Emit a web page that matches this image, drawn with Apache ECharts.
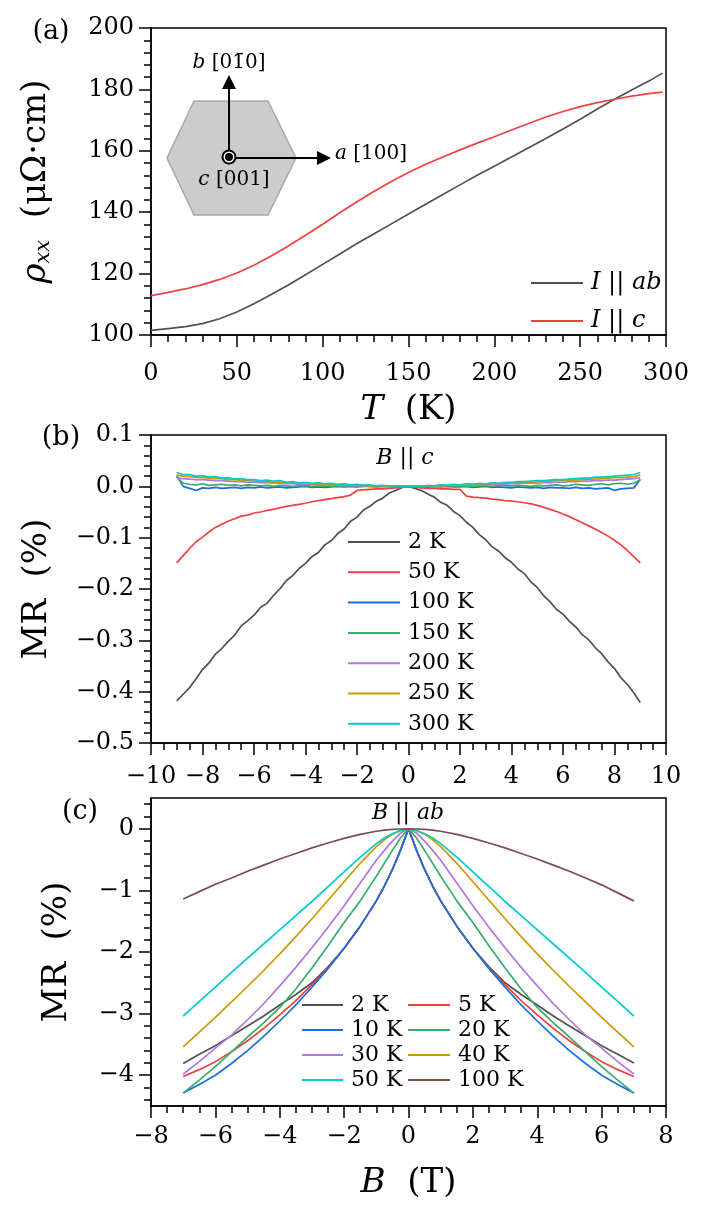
<!DOCTYPE html>
<html><head><meta charset="utf-8">
<script src="https://cdn.jsdelivr.net/npm/echarts@6/dist/echarts.min.js"></script>
<style>html,body{margin:0;padding:0;background:#fff}#c{width:706px;height:1208px}</style>
</head><body><div id="c"></div>
<script>
// ---------------- DATA ----------------
// Panel (a): resistivity vs temperature
const TEMP_A = [0,10,20,30,40,50,60,70,80,90,100,110,120,130,140,150,160,170,180,190,200,210,220,230,240,250,260,270,280,290,298];
const RHO_AB = [101.5,102.1,102.7,103.7,105.3,107.5,110.2,113.2,116.3,119.6,123.0,126.4,129.8,133.0,136.2,139.4,142.6,145.8,148.9,152.0,155.0,158.0,161.0,164.0,167.1,170.3,173.6,176.8,179.8,182.7,185.3];
const RHO_C  = [112.8,113.9,115.0,116.4,118.1,120.2,122.7,125.7,129.0,132.5,136.1,139.8,143.4,146.8,150.0,152.9,155.6,158.0,160.3,162.5,164.6,166.8,168.9,171.0,172.8,174.4,175.7,176.8,177.8,178.6,179.1];
const T_TICKS = [0,50,100,150,200,250,300];
const RHO_TICKS = [100,120,140,160,180,200];

// Panel (b): MR, B || c
const FIELD_B = [-9,-8.75,-8.5,-8.25,-8,-7.75,-7.5,-7.25,-7,-6.75,-6.5,-6.25,-6,-5.75,-5.5,-5.25,-5,-4.75,-4.5,-4.25,-4,-3.75,-3.5,-3.25,-3,-2.75,-2.5,-2.25,-2,-1.75,-1.5,-1.25,-1,-0.75,-0.5,-0.25,0,0.25,0.5,0.75,1,1.25,1.5,1.75,2,2.25,2.5,2.75,3,3.25,3.5,3.75,4,4.25,4.5,4.75,5,5.25,5.5,5.75,6,6.25,6.5,6.75,7,7.25,7.5,7.75,8,8.25,8.5,8.75,9];
const MR_C_2K = [-0.418,-0.405,-0.392,-0.375,-0.357,-0.344,-0.327,-0.316,-0.302,-0.290,-0.272,-0.262,-0.251,-0.236,-0.228,-0.213,-0.200,-0.184,-0.174,-0.160,-0.150,-0.137,-0.129,-0.114,-0.106,-0.092,-0.083,-0.068,-0.060,-0.046,-0.039,-0.029,-0.023,-0.013,-0.008,-0.002,0.000,
 -0.004,-0.008,-0.015,-0.021,-0.031,-0.037,-0.049,-0.057,-0.070,-0.080,-0.094,-0.104,-0.118,-0.126,-0.139,-0.148,-0.161,-0.170,-0.186,-0.197,-0.213,-0.225,-0.240,-0.249,-0.263,-0.274,-0.289,-0.299,-0.314,-0.326,-0.342,-0.355,-0.373,-0.386,-0.402,-0.421];
const MR_C_50K = [-0.149,-0.135,-0.121,-0.108,-0.099,-0.089,-0.080,-0.074,-0.068,-0.063,-0.058,-0.056,-0.052,-0.050,-0.047,-0.045,-0.042,-0.039,-0.037,-0.035,-0.033,-0.030,-0.028,-0.026,-0.024,-0.022,-0.020,-0.017,-0.008,-0.007,-0.006,-0.005,-0.005,-0.004,-0.003,-0.002,0.000,
 -0.002,-0.003,-0.004,-0.004,-0.005,-0.005,-0.006,-0.006,-0.019,-0.021,-0.022,-0.023,-0.025,-0.026,-0.028,-0.029,-0.030,-0.032,-0.034,-0.037,-0.041,-0.045,-0.049,-0.054,-0.059,-0.065,-0.071,-0.077,-0.083,-0.090,-0.097,-0.105,-0.114,-0.125,-0.137,-0.149];
const MR_C_100K = [0.021,0.000,-0.004,-0.008,-0.003,-0.004,-0.002,-0.004,-0.003,-0.002,-0.004,-0.002,-0.003,-0.001,-0.003,-0.002,-0.001,-0.003,-0.002,-0.001,0.000,-0.002,-0.001,-0.002,-0.001,0.000,-0.001,0.000,-0.001,0.000,0.000,-0.001,0.000,0.000,0.000,0.000,0.000,
 0.000,0.000,-0.001,0.000,-0.001,0.000,-0.001,-0.001,0.000,-0.002,-0.001,0.000,-0.002,-0.001,-0.002,-0.003,-0.001,-0.002,-0.003,-0.002,-0.004,-0.002,-0.003,-0.003,-0.004,-0.002,-0.004,-0.003,-0.005,-0.004,-0.003,-0.008,-0.005,-0.004,-0.003,0.014];
const MR_C_150K = [0.018,0.006,0.004,0.003,0.005,0.002,0.003,0.004,0.002,0.003,0.001,0.003,0.002,0.001,0.002,0.000,0.002,0.001,0.000,0.001,0.002,0.000,0.001,0.000,0.001,0.000,0.001,0.000,0.000,0.001,0.000,0.000,0.000,0.000,0.000,0.000,0.000,
 0.000,0.000,0.000,0.000,0.001,0.000,0.000,0.001,0.000,0.000,0.001,0.001,0.000,0.002,0.001,0.001,0.002,0.001,0.000,0.002,0.001,0.002,0.003,0.001,0.002,0.004,0.003,0.002,0.004,0.005,0.003,0.005,0.006,0.004,0.006,0.013];
const MR_C_200K = [0.016,0.015,0.014,0.013,0.013,0.012,0.011,0.011,0.010,0.009,0.009,0.008,0.008,0.007,0.007,0.006,0.006,0.005,0.005,0.004,0.004,0.004,0.003,0.003,0.003,0.002,0.002,0.002,0.001,0.001,0.001,0.001,0.000,0.000,0.000,0.000,0.000,
 0.000,0.000,0.001,0.001,0.001,0.001,0.002,0.002,0.002,0.003,0.003,0.003,0.004,0.004,0.004,0.005,0.005,0.006,0.006,0.006,0.007,0.007,0.008,0.008,0.009,0.009,0.010,0.010,0.011,0.011,0.012,0.012,0.013,0.014,0.015,0.017];
const MR_C_250K = [0.022,0.020,0.019,0.018,0.017,0.016,0.015,0.015,0.013,0.013,0.012,0.011,0.010,0.010,0.009,0.008,0.008,0.007,0.007,0.006,0.006,0.005,0.005,0.004,0.004,0.003,0.003,0.002,0.003,0.002,0.001,0.001,0.001,0.000,0.001,0.000,0.000,
 0.000,0.001,0.001,0.001,0.002,0.002,0.003,0.003,0.003,0.004,0.004,0.005,0.005,0.006,0.006,0.007,0.007,0.008,0.008,0.009,0.009,0.010,0.011,0.011,0.012,0.012,0.013,0.014,0.014,0.015,0.016,0.017,0.017,0.018,0.019,0.022];
const MR_C_300K = [0.027,0.023,0.023,0.020,0.021,0.018,0.019,0.016,0.017,0.014,0.015,0.013,0.013,0.011,0.012,0.010,0.011,0.008,0.009,0.007,0.008,0.006,0.007,0.005,0.006,0.004,0.005,0.003,0.004,0.002,0.003,0.001,0.002,0.001,0.001,0.000,0.000,
 0.001,0.000,0.002,0.001,0.003,0.002,0.004,0.003,0.005,0.004,0.006,0.005,0.007,0.006,0.008,0.008,0.009,0.009,0.010,0.011,0.011,0.012,0.013,0.013,0.014,0.015,0.016,0.016,0.018,0.018,0.019,0.020,0.021,0.022,0.023,0.027];
const B1_TICKS = [-10,-8,-6,-4,-2,0,2,4,6,8,10];
const MR1_TICKS = [-0.5,-0.4,-0.3,-0.2,-0.1,0,0.1];

// Panel (c): MR, B || ab
const FIELD_C = [-7,-6.5,-6,-5.5,-5,-4.5,-4,-3.5,-3,-2.5,-2,-1.5,-1,-0.75,-0.5,-0.25,0,0.25,0.5,0.75,1,1.5,2,2.5,3,3.5,4,4.5,5,5.5,6,6.5,7];
const MR_AB_2K   = [-3.81,-3.66,-3.52,-3.36,-3.20,-3.04,-2.86,-2.69,-2.50,-2.24,-1.94,-1.58,-1.17,-0.93,-0.66,-0.35,0,-0.35,-0.66,-0.93,-1.17,-1.58,-1.94,-2.24,-2.50,-2.69,-2.86,-3.04,-3.20,-3.36,-3.52,-3.66,-3.80];
const MR_AB_5K   = [-4.02,-3.91,-3.78,-3.62,-3.44,-3.24,-3.02,-2.79,-2.53,-2.26,-1.94,-1.58,-1.17,-0.93,-0.66,-0.35,0,-0.35,-0.66,-0.93,-1.17,-1.58,-1.94,-2.26,-2.53,-2.79,-3.02,-3.24,-3.44,-3.62,-3.78,-3.91,-4.02];
const MR_AB_10K  = [-4.29,-4.15,-4.00,-3.81,-3.60,-3.37,-3.12,-2.86,-2.57,-2.27,-1.94,-1.58,-1.17,-0.93,-0.66,-0.35,0,-0.35,-0.66,-0.93,-1.17,-1.58,-1.94,-2.27,-2.57,-2.86,-3.12,-3.37,-3.60,-3.81,-4.00,-4.15,-4.29];
const MR_AB_20K  = [-4.29,-4.08,-3.86,-3.62,-3.38,-3.15,-2.90,-2.60,-2.26,-1.90,-1.52,-1.17,-0.77,-0.56,-0.35,-0.15,0,-0.15,-0.35,-0.56,-0.77,-1.17,-1.52,-1.90,-2.26,-2.60,-2.90,-3.15,-3.38,-3.62,-3.86,-4.08,-4.29];
const MR_AB_30K  = [-3.98,-3.78,-3.56,-3.35,-3.10,-2.84,-2.55,-2.25,-1.93,-1.60,-1.25,-0.88,-0.51,-0.35,-0.20,-0.07,0,-0.07,-0.20,-0.35,-0.51,-0.88,-1.25,-1.60,-1.93,-2.25,-2.55,-2.84,-3.10,-3.35,-3.56,-3.78,-3.98];
const MR_AB_40K  = [-3.54,-3.30,-3.06,-2.81,-2.56,-2.30,-2.03,-1.75,-1.46,-1.16,-0.86,-0.56,-0.29,-0.18,-0.09,-0.03,0,-0.03,-0.09,-0.18,-0.29,-0.56,-0.86,-1.16,-1.46,-1.75,-2.03,-2.30,-2.56,-2.81,-3.06,-3.30,-3.54];
const MR_AB_50K  = [-3.04,-2.80,-2.57,-2.33,-2.10,-1.87,-1.64,-1.41,-1.18,-0.94,-0.70,-0.46,-0.24,-0.15,-0.08,-0.025,0,-0.025,-0.08,-0.15,-0.24,-0.46,-0.70,-0.94,-1.18,-1.41,-1.64,-1.87,-2.10,-2.33,-2.57,-2.80,-3.04];
const MR_AB_100K = [-1.14,-1.02,-0.90,-0.80,-0.69,-0.59,-0.49,-0.40,-0.31,-0.23,-0.155,-0.09,-0.04,-0.022,-0.01,-0.003,0,-0.003,-0.01,-0.022,-0.04,-0.09,-0.155,-0.23,-0.31,-0.40,-0.49,-0.59,-0.69,-0.80,-0.91,-1.04,-1.17];
const B2_TICKS = [-8,-6,-4,-2,0,2,4,6,8];
const MR2_TICKS = [-4,-3,-2,-1,0];
const MR2_MINOR = [-4.4,-4.2,-3.8,-3.6,-3.4,-3.2,-2.8,-2.6,-2.4,-2.2,-1.8,-1.6,-1.4,-1.2,-0.8,-0.6,-0.4,-0.2,0.2,0.4];

// ---------------- STYLE ----------------
const FONT = 'DejaVu Serif';
const COL = {gray:'#515151', red:'#F14040', blue:'#1A6FDF', green:'#37AD6B', purple:'#B177DE', gold:'#CC9900', cyan:'#00CBCC', brown:'#7D4E4E'};
const minus = v => (v < 0 ? '\u2212' : '') + Math.abs(v);
const minus1 = v => (v < 0 ? '\u2212' : '') + Math.abs(v).toFixed(1);
const GRIDS = [
  {left:151, top:28, width:515, height:307},
  {left:151, top:435, width:515, height:308},
  {left:151, top:798, width:515, height:308}
];
const black = {color:'#000', width:1.5};
const richTxt = (fs) => ({
  i:{fontFamily:FONT, fontStyle:'italic', fontSize:fs, color:'#000'},
  n:{fontFamily:FONT, fontSize:fs, color:'#000'},
  s:{fontFamily:FONT, fontStyle:'italic', fontSize:Math.round(fs*0.62), color:'#000', padding:[Math.round(fs*0.45),0,0,0]}
});

function xAxis(gi, min, max, interval, ticks, minorSplit, fmt, name, nameGap, margin) {
  return {
    type:'value', gridIndex:gi, min, max, interval,
    axisLine:{show:true, onZero:false, lineStyle:black},
    axisTick:{show:true, inside:false, length:12, lineStyle:black, customValues:ticks},
    minorTick:{show:true, splitNumber:minorSplit, length:7, lineStyle:black},
    splitLine:{show:false}, minorSplitLine:{show:false},
    axisLabel:{show:true, customValues:ticks, formatter:fmt, margin, fontFamily:FONT, fontSize:24, color:'#000'},
    name, nameLocation:'middle', nameGap,
    nameTextStyle:{fontFamily:FONT, fontSize:34, color:'#000', rich:richTxt(34)}
  };
}
function yAxis(gi, min, max, interval, ticks, minorSplit, fmt, name, nameGap) {
  const ax = {
    type:'value', gridIndex:gi, min, max, position:'left',
    axisLine:{show:true, onZero:false, lineStyle:black},
    axisTick:{show:true, inside:false, length:12, lineStyle:black, customValues:ticks},
    minorTick:{show:minorSplit>0, splitNumber:minorSplit||5, length:7, lineStyle:black},
    splitLine:{show:false}, minorSplitLine:{show:false},
    axisLabel:{show:true, customValues:ticks, formatter:fmt, margin:17, fontFamily:FONT, fontSize:24, color:'#000'},
    name, nameLocation:'middle', nameGap,
    nameTextStyle:{fontFamily:FONT, fontSize:34, color:'#000', rich:richTxt(34)}
  };
  if (interval) ax.interval = interval;
  return ax;
}

const pairs = (xs, ys) => xs.map((x, i) => [x, ys[i]]);
function line(name, xi, yi, xs, ys, color) {
  return {name, type:'line', xAxisIndex:xi, yAxisIndex:yi, data:pairs(xs, ys),
    showSymbol:false, symbol:'none', lineStyle:{color, width:1.7}, itemStyle:{color}, animation:false, silent:true};
}

const LABELS = {};
const series = [];
function add(key, label, xi, yi, xs, ys, color) { LABELS[key] = label; series.push(line(key, xi, yi, xs, ys, color)); }
add('a:ab', 'I || ab', 0, 0, TEMP_A, RHO_AB, COL.gray);
add('a:c', 'I || c', 0, 0, TEMP_A, RHO_C, COL.red);
add('b:2', '2 K', 1, 1, FIELD_B, MR_C_2K, COL.gray);
add('b:50', '50 K', 1, 1, FIELD_B, MR_C_50K, COL.red);
add('b:100', '100 K', 1, 1, FIELD_B, MR_C_100K, COL.blue);
add('b:150', '150 K', 1, 1, FIELD_B, MR_C_150K, COL.green);
add('b:200', '200 K', 1, 1, FIELD_B, MR_C_200K, COL.purple);
add('b:250', '250 K', 1, 1, FIELD_B, MR_C_250K, COL.gold);
add('b:300', '300 K', 1, 1, FIELD_B, MR_C_300K, COL.cyan);
add('c:2', '2 K', 2, 2, FIELD_C, MR_AB_2K, COL.gray);
add('c:5', '5 K', 2, 2, FIELD_C, MR_AB_5K, COL.red);
add('c:10', '10 K', 2, 2, FIELD_C, MR_AB_10K, COL.blue);
add('c:20', '20 K', 2, 2, FIELD_C, MR_AB_20K, COL.green);
add('c:30', '30 K', 2, 2, FIELD_C, MR_AB_30K, COL.purple);
add('c:40', '40 K', 2, 2, FIELD_C, MR_AB_40K, COL.gold);
add('c:50', '50 K', 2, 2, FIELD_C, MR_AB_50K, COL.cyan);
add('c:100', '100 K', 2, 2, FIELD_C, MR_AB_100K, COL.brown);

function legendFmt(key) {
  const t = LABELS[key];
  if (t.startsWith('I || ')) return '{i|I} {n|||} {i|' + t.slice(5) + '}';
  return t;
}
function legend(data, left, top, itemWidth, itemGap, fs) {
  return {data, left, top, orient:'vertical', icon:'rect', itemWidth, itemHeight:2, itemGap,
    selectedMode:false, padding:0, formatter:legendFmt,
    textStyle:{fontFamily:FONT, fontSize:fs, color:'#000', lineHeight:20, padding:[0,0,0,3], rich:richTxt(fs)}};
}

const txt = (x, y, text, fs, align) => ({type:'text', x, y, silent:true,
  style:{text, fontFamily:FONT, fontSize:fs, fill:'#000', align:align||'center', verticalAlign:'middle', rich:richTxt(fs)}});

const option = {
  animation:false,
  backgroundColor:'#fff',
  grid: GRIDS.map(g => Object.assign({show:true, borderColor:'#000', borderWidth:1.5, backgroundColor:'transparent', containLabel:false}, g)),
  xAxis:[
    xAxis(0, 0, 300, 50, T_TICKS, 5, v => String(v), '{i|T}  (K)', 58, 27),
    xAxis(1, -10, 10, 2, B1_TICKS, 4, minus, '', 30, 22),
    xAxis(2, -8, 8, 2, B2_TICKS, 4, minus, '{i|B}  (T)', 60, 19)
  ],
  yAxis:[
    yAxis(0, 100, 200, 20, RHO_TICKS, 5, v => String(v), '{i|\u03C1}{s|xx}  (\u03BC\u03A9\u00B7cm)', 97),
    yAxis(1, -0.5, 0.1, 0.1, MR1_TICKS, 5, minus1, 'MR  (%)', 97),
    yAxis(2, -4.5, 0.5, null, MR2_TICKS, 0, minus, 'MR  (%)', 77),
    {type:'value', gridIndex:2, min:-4.5, max:0.5, position:'left',
     axisLine:{show:false, onZero:false},
     axisTick:{show:true, inside:false, length:7, lineStyle:black, customValues:MR2_MINOR},
     axisLabel:{show:false}, splitLine:{show:false}}
  ],
  legend:[
    legend(['a:ab','a:c'], 531, 271, 52, 14, 24),
    legend(['b:2','b:50','b:100','b:150','b:200','b:250','b:300'], 348, 531, 52, 8.3, 22),
    legend(['c:2','c:10','c:30','c:50'], 302, 994, 41, 3, 22),
    legend(['c:5','c:20','c:40','c:100'], 408, 994, 42, 3, 22)
  ],
  graphic:[
    txt(51, 32, '(a)', 27), txt(61, 438, '(b)', 27), txt(80, 812, '(c)', 27),
    txt(405, 458, '{i|B} {n|||} {i|c}', 22),
    txt(408, 813, '{i|B} {n|||} {i|ab}', 22),
    // inset crystal sketch
    {type:'polygon', silent:true, shape:{points:[[194,101],[268,101],[296,158],[268,215],[194,215],[167,158]]},
     style:{fill:'#cccccc', stroke:'#a8a8a8', lineWidth:1.5}},
    {type:'line', silent:true, shape:{x1:229, y1:158, x2:229, y2:88}, style:{stroke:'#000', lineWidth:2}},
    {type:'polygon', silent:true, shape:{points:[[229,75],[222,89],[236,89]]}, style:{fill:'#000'}},
    {type:'line', silent:true, shape:{x1:229, y1:158, x2:318, y2:158}, style:{stroke:'#000', lineWidth:2}},
    {type:'polygon', silent:true, shape:{points:[[331,158],[317,151],[317,165]]}, style:{fill:'#000'}},
    {type:'circle', silent:true, shape:{cx:229, cy:157, r:7.5}, style:{fill:'#000'}},
    {type:'circle', silent:true, shape:{cx:229, cy:157, r:5.5}, style:{fill:'#fff'}},
    {type:'circle', silent:true, shape:{cx:229, cy:157, r:4}, style:{fill:'#000'}},
    txt(229, 63, '{i|b} [01\u03040]', 20),
    txt(234, 180, '{i|c} [001]', 20),
    txt(335, 154, '{i|a} [100]', 20, 'left')
  ],
  series
};
const chart = echarts.init(document.getElementById('c'), null, {renderer:'canvas'});
chart.setOption(option);
</script></body></html>
